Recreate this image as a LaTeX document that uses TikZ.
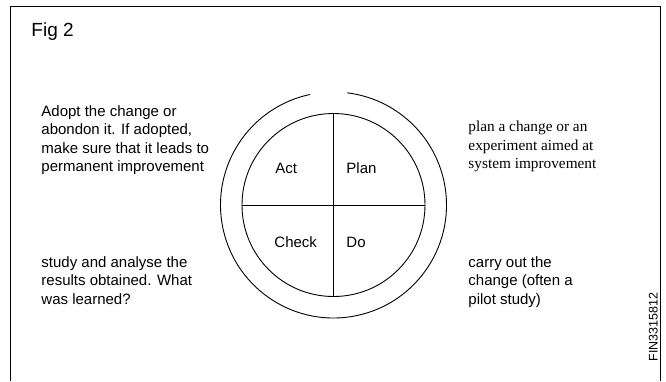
\documentclass[tikz,border=0pt]{standalone}
\usepackage{fontspec}
\setmainfont{Liberation Sans}
\newfontfamily\notefont{Liberation Serif}
\usetikzlibrary{positioning}

\begin{document}
\begin{tikzpicture}[x=1pt, y=-1pt,
        line width=0.9pt,
        note/.style={anchor=base west, inner sep=0pt, align=left, font=\fontsize{15}{18.5}\selectfont},
        quad/.style={anchor=base west, inner sep=0pt, font=\fontsize{15}{18}\selectfont}
    ]
    \useasboundingbox (0,0) rectangle (666,381);
    % open frame
    \draw (10.5,381) -- (10.5,6.5) -- (660,6.5) -- (660,381);
    \node[anchor=base west, inner sep=0pt, font=\fontsize{19}{22}\selectfont] (title) at (31,36) {Fig 2};

    % PDCA wheel (y runs downwards, so the angles are negated)
    \node[circle, draw, minimum size=183pt, inner sep=0pt] (wheel) at (333.5,205) {};
    \draw (wheel.north) -- (wheel.south);
    \draw (wheel.west) -- (wheel.east);
    \draw ([shift={(-102:113)}]wheel.center) arc[start angle=-102, end angle=-443, radius=113];

    \node[quad] (act) at (275,173) {Act};
    \node[quad] (plan) at (346,173) {Plan};
    \node[quad] (check) at (274,247) {Check};
    \node[quad] (do) at (346,247) {Do};

    % notes round the wheel, placed by their last line
    \node[note] (actnote) at (41,171.5) {Adopt the change or\\abondon it. If adopted,\\make sure that it leads to\\permanent improvement};
    \node[note, font=\notefont\fontsize{15.3}{18.5}\selectfont] (plannote) at (468,168.5) {plan a change or an\\experiment aimed at\\system improvement};
    \node[note] (checknote) at (41,304) {study and analyse the\\results obtained. What\\was learned?};
    \node[note] (donote) at (468,304) {carry out the\\change (often a\\pilot study)};

    \node[anchor=base west, rotate=90, inner sep=0pt, font=\fontsize{12.5}{14}\selectfont] (code) at (657.5,362) {FIN3315812};
\end{tikzpicture}
\end{document}
